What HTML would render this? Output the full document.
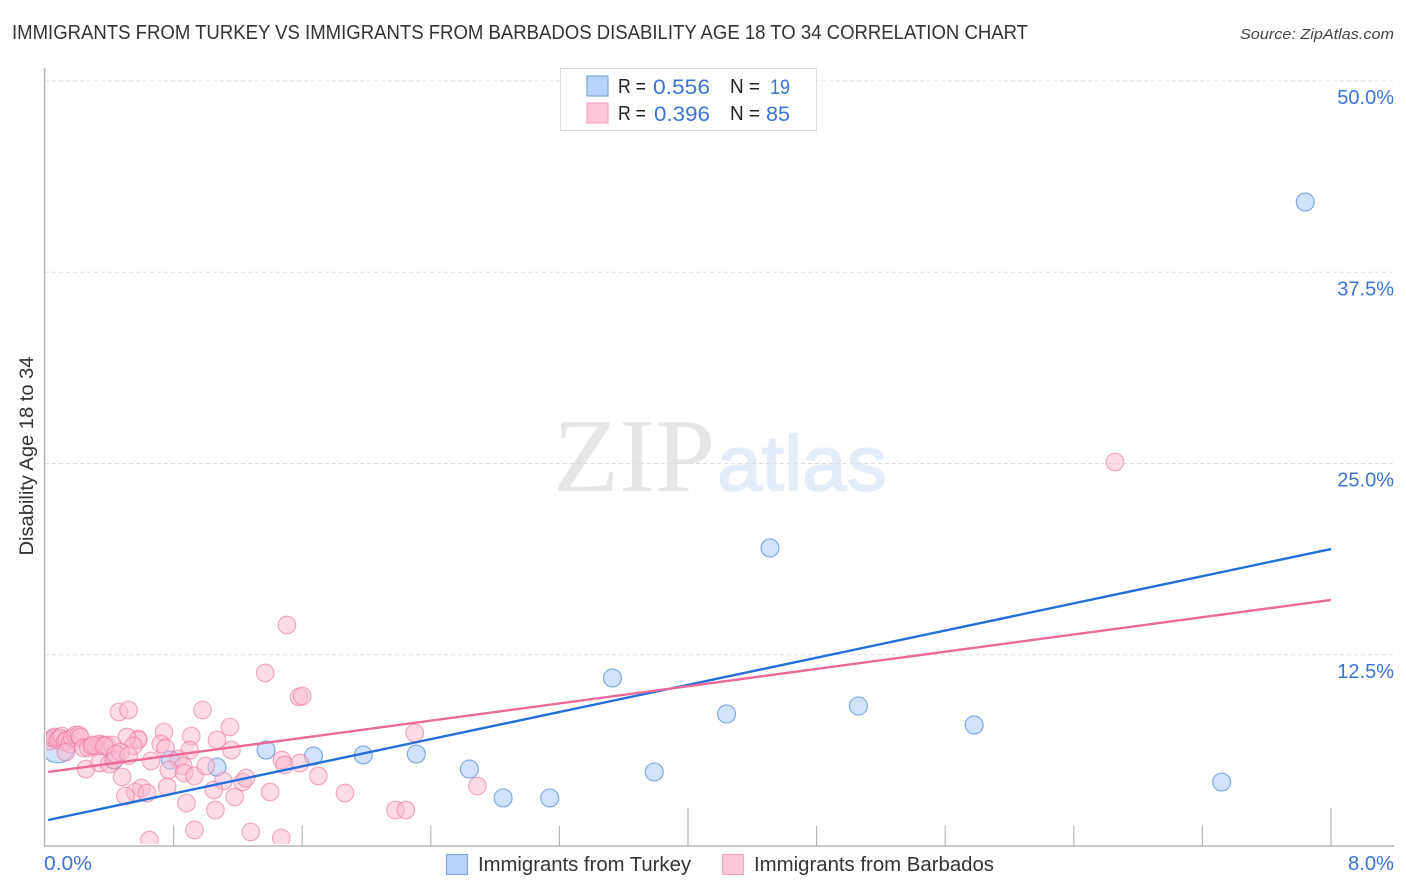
<!DOCTYPE html>
<html>
<head>
<meta charset="utf-8">
<title>Immigrants from Turkey vs Immigrants from Barbados Disability Age 18 to 34 Correlation Chart</title>
<style>
html,body{margin:0;padding:0;background:#fff;}
svg{display:block;font-family:"Liberation Sans",sans-serif;}
</style>
</head>
<body>
<svg id="chart" width="1406" height="892" viewBox="0 0 1406 892" xmlns="http://www.w3.org/2000/svg">
  <defs><clipPath id="plot-clip"><rect x="46" y="60" width="1348" height="784"/></clipPath></defs>
  <rect width="1406" height="892" fill="#fff"/>
  <text x="12" y="39" font-size="20" fill="#333" textLength="1016" lengthAdjust="spacingAndGlyphs">IMMIGRANTS FROM TURKEY VS IMMIGRANTS FROM BARBADOS DISABILITY AGE 18 TO 34 CORRELATION CHART</text>
  <text x="1394" y="39" font-size="15" font-style="italic" fill="#444" text-anchor="end" textLength="154" lengthAdjust="spacingAndGlyphs">Source: ZipAtlas.com</text>
  <g>
    <text x="553" y="491" font-family="'Liberation Serif',serif" font-size="105" fill="#e6e6e6" textLength="162" lengthAdjust="spacingAndGlyphs">ZIP</text>
    <text x="717" y="490" font-size="78" fill="#e3ecf9" stroke="#e3ecf9" stroke-width="1.6" textLength="170" lengthAdjust="spacingAndGlyphs">atlas</text>
  </g>
  <g id="grid"></g>
  <g id="xticks"></g>
  <line x1="44.5" y1="68" x2="44.5" y2="846" stroke="#b5b5b5" stroke-width="1.5"/>
  <line x1="44" y1="846" x2="1394" y2="846" stroke="#b5b5b5" stroke-width="1.5"/>
  <g id="ylabels"></g>
  <text transform="translate(33,456) rotate(-90)" font-size="19" fill="#333" text-anchor="middle" textLength="199" lengthAdjust="spacingAndGlyphs">Disability Age 18 to 34</text>
  <text x="44" y="870" font-size="20" fill="#3b74d6" textLength="48" lengthAdjust="spacingAndGlyphs">0.0%</text>
  <text x="1394" y="870" font-size="20" fill="#3b74d6" text-anchor="end" textLength="46" lengthAdjust="spacingAndGlyphs">8.0%</text>
  <g id="points" clip-path="url(#plot-clip)"></g>
  <g id="trends"></g>

  <g>
    <rect x="560.5" y="68.5" width="256" height="62" fill="#fff" stroke="#dcdcdc"/>
    <rect x="587" y="76" width="21" height="20" fill="#b8d3f7" stroke="#7fa9de" stroke-width="1.2"/>
    <rect x="587" y="103" width="21" height="20" fill="#fcc8d8" stroke="#f3a8c0" stroke-width="1.2"/>
    <text x="618" y="93" font-size="20" fill="#222" textLength="28" lengthAdjust="spacingAndGlyphs">R =</text>
    <text x="653" y="94" font-size="21.5" fill="#3b74d6" textLength="57" lengthAdjust="spacingAndGlyphs">0.556</text>
    <text x="730" y="93" font-size="20" fill="#222" textLength="30" lengthAdjust="spacingAndGlyphs">N =</text>
    <text x="770" y="94" font-size="21.5" fill="#3b74d6" textLength="20" lengthAdjust="spacingAndGlyphs">19</text>
    <text x="618" y="120" font-size="20" fill="#222" textLength="28" lengthAdjust="spacingAndGlyphs">R =</text>
    <text x="654" y="121" font-size="21.5" fill="#3b74d6" textLength="56" lengthAdjust="spacingAndGlyphs">0.396</text>
    <text x="730" y="120" font-size="20" fill="#222" textLength="30" lengthAdjust="spacingAndGlyphs">N =</text>
    <text x="766" y="121" font-size="21.5" fill="#3b74d6" textLength="24" lengthAdjust="spacingAndGlyphs">85</text>
  </g>

  <g>
    <rect x="446.5" y="854.5" width="21" height="20" fill="#b8d3f7" stroke="#7fa9de" stroke-width="1.2"/>
    <text x="478" y="871" font-size="20" fill="#333" textLength="213" lengthAdjust="spacingAndGlyphs">Immigrants from Turkey</text>
    <rect x="722.5" y="854.5" width="21" height="20" fill="#fcc8d8" stroke="#f3a8c0" stroke-width="1.2"/>
    <text x="754" y="871" font-size="20" fill="#333" textLength="240" lengthAdjust="spacingAndGlyphs">Immigrants from Barbados</text>
  </g>
</svg>
<script>
var yTickValues = [12.5, 25, 37.5, 50];
var yTickLabels = ["12.5%", "25.0%", "37.5%", "50.0%"];
var xTickValues = [0.8, 1.6, 2.4, 3.2, 4, 4.8, 5.6, 6.4, 7.2, 8];
var xMajorTicks = [4, 8];

var turkeyX = [7.84, 4.51, 3.53, 4.24, 5.06, 5.78, 7.32, 3.79, 3.14, 2.85, 2.64, 2.31, 1.98, 1.67, 1.375, 1.07, 0.78, 0.43, 0.08];
var turkeyY = [42.09, 19.48, 10.98, 8.63, 9.15, 7.91, 4.18, 4.84, 3.14, 3.14, 5.03, 6.01, 5.95, 5.88, 6.27, 5.16, 5.62, 5.62, 6.54];
var turkeySize = [1, 1, 1, 1, 1, 1, 1, 1, 1, 1, 1, 1, 1, 1, 1, 1, 1, 1, 2];

var barbadosX = [0.46, 0.52, 0.98, 1.15, 0.74, 0.91, 1.07, 1.16, 0.58, 0.58, 0.51, 0.55, 0.72, 0.75, 0.90, 0.66, 0.83, 0.86, 0.77, 0.865, 0.93, 1.00, 1.11, 1.05, 1.23, 1.25, 1.40, 1.18, 1.06, 0.88, 0.76, 0.60, 0.56, 0.635, 0.50, 0.48, 0.255, 0.34, 0.40, 0.43, 0.93, 1.28, 0.65, 1.505, 1.37, 1.58, 1.60, 2.30, 1.474, 1.49, 1.586, 1.70, 1.866, 2.18, 2.245, 2.69, 1.47, 6.656, 0.03, 0.05, 0.06, 0.08, 0.09, 0.105, 0.125, 0.137, 0.155, 0.17, 0.19, 0.21, 0.22, 0.24, 0.27, 0.29, 0.32, 0.34, 0.36, 0.385, 0.42, 0.47, 0.13, 0.30, 0.37, 0.44, 0.52];
var barbadosY = [8.76, 8.89, 8.89, 7.78, 7.45, 7.19, 6.93, 6.27, 6.99, 6.93, 7.12, 6.54, 6.67, 6.41, 6.27, 5.56, 5.69, 5.23, 4.97, 4.77, 4.58, 5.23, 4.25, 3.66, 4.18, 4.44, 3.53, 3.2, 2.35, 2.81, 3.86, 3.79, 3.53, 3.46, 3.27, 4.51, 5.03, 5.42, 5.36, 5.62, 1.05, 0.92, 0.39, 14.44, 11.31, 9.74, 9.8, 7.39, 5.62, 5.29, 5.42, 4.58, 3.46, 2.35, 2.35, 3.92, 0.52, 25.1, 6.86, 7.06, 7.12, 6.93, 7.06, 7.19, 6.8, 6.93, 6.67, 7.06, 7.25, 7.25, 7.12, 6.41, 6.41, 6.54, 6.54, 6.67, 6.6, 6.6, 6.6, 6.14, 6.14, 6.6, 6.54, 6.0, 5.9];

var trendX = [0.02, 8];
var turkeyTrend = [1.7, 19.41];
var barbadosTrend = [4.84, 16.08];

var SVG_NS = 'http://www.w3.org/2000/svg';
function xScale(v) { return 45 + v * 160.75; }
function yScale(v) { return 846 - v * 15.3; }
function make(tag, parent, attrs) {
  var el = document.createElementNS(SVG_NS, tag);
  for (var k in attrs) { el.setAttribute(k, attrs[k]); }
  document.getElementById(parent).appendChild(el);
  return el;
}

yTickValues.forEach(function (v, i) {
  var line = make('line', 'grid', { x1: 45, x2: 1394, y1: yScale(v), y2: yScale(v), stroke: '#dddddd', 'stroke-width': 1, 'stroke-dasharray': '4 3' });
  
  
  var label = make('text', 'ylabels', { x: 1394, y: yScale(v) + 23, 'font-size': 20, fill: '#3b74d6', 'text-anchor': 'end' });
  
  
  label.textContent = yTickLabels[i];
});

xTickValues.forEach(function (v) {
  var top = xMajorTicks.indexOf(v) >= 0 ? 808 : 826;
  var tick = make('line', 'xticks', { x1: xScale(v), x2: xScale(v), y1: top, y2: 846, stroke: '#b5b5b5', 'stroke-width': 1.2 });
  
  
});

turkeyX.forEach(function (v, i) {
  var big = turkeySize[i] > 1;
  var c = make('circle', 'points', { cx: xScale(v), cy: yScale(turkeyY[i]), r: big ? 17 : 9, fill: 'rgba(184,211,247,0.65)', stroke: 'rgba(74,134,214,0.65)', 'stroke-width': 1.2 });
  
  
});

barbadosX.forEach(function (v, i) {
  var c = make('circle', 'points', { cx: xScale(v), cy: yScale(barbadosY[i]), r: 8.8, fill: 'rgba(252,186,208,0.5)', stroke: 'rgba(236,120,160,0.6)', 'stroke-width': 1.2 });
  
  
});

var turkeyLine = make('line', 'trends', { x1: xScale(trendX[0]), y1: yScale(turkeyTrend[0]), x2: xScale(trendX[1]), y2: yScale(turkeyTrend[1]), stroke: '#2470d8', 'stroke-width': 2.4 });



var barbadosLine = make('line', 'trends', { x1: xScale(trendX[0]), y1: yScale(barbadosTrend[0]), x2: xScale(trendX[1]), y2: yScale(barbadosTrend[1]), stroke: '#ec6a9a', 'stroke-width': 2.4 });


</script>
</body>
</html>
